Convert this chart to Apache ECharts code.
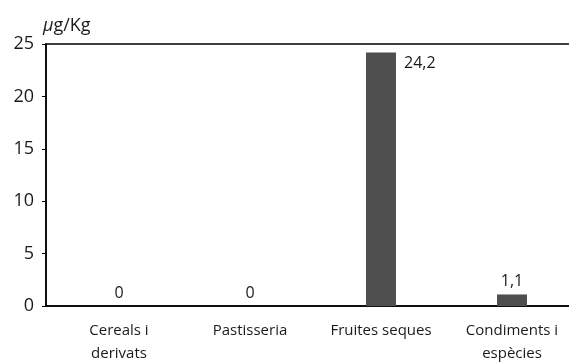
<!DOCTYPE html>
<html>
<head>
<meta charset="utf-8">
<script src="https://cdn.jsdelivr.net/npm/echarts@6/dist/echarts.min.js"></script>
<style>html,body{margin:0;padding:0;background:#fff}#c{width:569px;height:363px}</style>
</head>
<body>
<div id="c"></div>
<script>
var categories = ['Cereals i\nderivats', 'Pastisseria', 'Fruites seques', 'Condiments i\nespècies'];
var values = [0, 0, 24.2, 1.1];
var yTicks = [0, 5, 10, 15, 20, 25];
var yUnit = 'µg/Kg';

var FONT = '"Open Sans", "Noto Sans", sans-serif';
var chart = echarts.init(document.getElementById('c'), null, {renderer: 'canvas'});
var idx = categories.map(function (_, i) { return i; });
var data = values.map(function (v, i) {
  var item = {value: [i, v]};
  if (v > 20) {
    item.label = {position: [38, 3]};
  }
  return item;
});
chart.setOption({
  animation: false,
  grid: {left: 46, top: 44, height: 262, width: 531.5, outerBoundsMode: 'none', containLabel: false, show: true, borderColor: '#000', borderWidth: 1.5, backgroundColor: 'transparent'},
  xAxis: {
    type: 'value', min: -0.557, max: 3.5,
    axisLine: {show: true, onZero: false, lineStyle: {color: '#000', width: 1.5}},
    axisTick: {show: false},
    splitLine: {show: false},
    axisLabel: {
      customValues: idx,
      formatter: function (v) { return categories[Math.round(v)]; },
      color: '#1a1a1a', fontFamily: FONT, fontSize: 15, lineHeight: 23, margin: 13
    }
  },
  yAxis: {
    type: 'value', min: yTicks[0], max: yTicks[yTicks.length - 1], interval: 5,
    name: '{i|µ}g/Kg',
    nameLocation: 'end', nameGap: 18,
    nameTextStyle: {
      align: 'left', verticalAlign: 'middle', padding: [0, 0, 0, -3],
      color: '#1a1a1a', fontFamily: FONT, fontSize: 18,
      rich: {i: {fontStyle: 'italic', fontFamily: FONT, fontSize: 18, color: '#1a1a1a'}}
    },
    axisLine: {show: true, onZero: false, lineStyle: {color: '#000', width: 1.5}},
    axisTick: {show: true, length: 4, lineStyle: {color: '#000', width: 1}},
    splitLine: {show: false},
    axisLabel: {color: '#1a1a1a', fontFamily: FONT, fontSize: 18, margin: 12}
  },
  series: [{
    type: 'bar',
    barWidth: 30,
    data: data,
    itemStyle: {color: '#4f4f4f'},
    label: {
      show: true, position: 'top', distance: 5,
      color: '#1a1a1a', fontFamily: FONT, fontSize: 16,
      formatter: function (p) { return String(p.value[1]).replace('.', ','); }
    }
  }]
});
</script>
</body>
</html>
